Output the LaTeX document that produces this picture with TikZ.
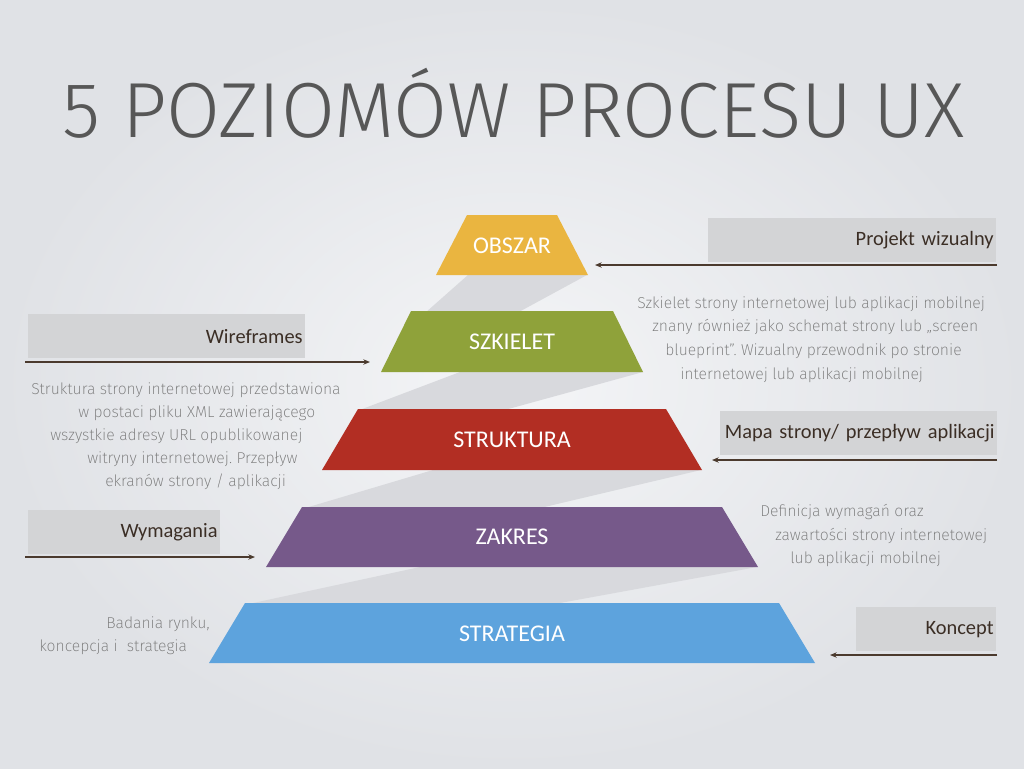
\documentclass[tikz,border=0pt]{standalone}
\usepackage{fontspec}
\setmainfont{Carlito}
\newfontfamily\titlefont{Fira Sans Light}
\newfontfamily\descfont{Fira Sans ExtraLight}
\usetikzlibrary{arrows.meta}
\definecolor{bgin}{HTML}{F4F5F7}
\definecolor{bgout}{HTML}{E0E2E6}
\definecolor{titlegray}{HTML}{575757}
\definecolor{shadowgray}{HTML}{D8D9DD}
\definecolor{boxgray}{HTML}{D3D4D6}
\definecolor{boxtext}{HTML}{3B2E25}
\definecolor{arrowcol}{HTML}{4B3A2E}
\definecolor{descgray}{HTML}{777777}
\definecolor{cgold}{HTML}{EAB540}
\definecolor{cgreen}{HTML}{8FA23A}
\definecolor{cred}{HTML}{B22E23}
\definecolor{cpurple}{HTML}{76598A}
\definecolor{cblue}{HTML}{5DA3DD}
\frenchspacing
\begin{document}
\begin{tikzpicture}[x=0.75pt,y=-0.75pt,
  shadowband/.style={fill=shadowgray},
  level/.style={fill=#1},
  lvltext/.style={text=white, font=\fontsize{18pt}{20pt}\selectfont, inner sep=0},
  box/.style={fill=boxgray, anchor=north west, minimum height=33pt, inner xsep=2pt, inner ysep=0pt,
    align=right, text=boxtext, font=\fontsize{15.3pt}{17pt}\selectfont\frenchspacing},
  conn/.style={draw=arrowcol, line width=0.9pt, -{Stealth[length=5pt,width=4pt]}},
  desc/.style={font=\descfont\fontsize{11.8pt}{14pt}\selectfont\frenchspacing, text=descgray, inner sep=0, anchor=base west}]
\useasboundingbox (0,0) rectangle (1024,768);
\shade[inner color=bgin, outer color=bgout] (0,0) rectangle (1024,768);

% title
\node[anchor=base west, inner sep=0, text=titlegray] (title) at (62,137)
  {\resizebox{676.5pt}{!}{\titlefont 5 POZIOMÓW PROCESU UX}};

% shadow bands
\fill[shadowband] (468,275) -- (587,275) -- (517,313) -- (425,313) -- cycle;
\fill[shadowband] (460,372) -- (643,372) -- (501,411) -- (357,411) -- cycle;
\fill[shadowband] (433,470) -- (701,470) -- (536,509) -- (302,509) -- cycle;
\fill[shadowband] (420,567) -- (757,567) -- (549,605) -- (244,605) -- cycle;

% levels
\fill[level=cgold]   (467,215) -- (557,215) -- (588,275) -- (436,275) -- cycle;
\fill[level=cgreen]  (411,311) -- (613,311) -- (643,372) -- (381,372) -- cycle;
\fill[level=cred]    (358,409) -- (666,409) -- (702,470) -- (322,470) -- cycle;
\fill[level=cpurple] (302,507) -- (722,507) -- (758,567) -- (266,567) -- cycle;
\fill[level=cblue]   (245,603) -- (779,603) -- (815,663) -- (209,663) -- cycle;

\node[lvltext] (obszar) at (512,246) {OBSZAR};
\node[lvltext] (szkielet) at (512,342) {SZKIELET};
\node[lvltext] (struktura) at (512,440) {STRUKTURA};
\node[lvltext] (zakres) at (512,537) {ZAKRES};
\node[lvltext] (strategia) at (512,634) {STRATEGIA};

% grey label boxes
\node[box, text width=212pt] (pw) at (708,218) {Projekt wizualny};
\node[box, text width=203.75pt] (wf) at (28,314) {Wireframes};
\node[box, text width=203.75pt] (ms) at (720,411) {Mapa strony/ przepływ aplikacji};
\node[box, text width=140pt] (wy) at (28,510) {Wymagania};
\node[box, text width=101pt] (ko) at (856,607) {Koncept};

% connectors
\coordinate (pwA) at (997,265); \coordinate (pwB) at (595,265);
\coordinate (wfA) at (25,362);  \coordinate (wfB) at (370,362);
\coordinate (msA) at (997,460); \coordinate (msB) at (712,460);
\coordinate (wyA) at (25,557);  \coordinate (wyB) at (255,557);
\coordinate (koA) at (997,655); \coordinate (koB) at (830,655);
\draw[conn] (pwA) -- (pwB);
\draw[conn] (wfA) -- (wfB);
\draw[conn] (msA) -- (msB);
\draw[conn] (wyA) -- (wyB);
\draw[conn] (koA) -- (koB);

% descriptions
\node[desc] (d1a) at (637,308) {Szkielet strony internetowej lub aplikacji mobilnej};
\node[desc] (d1b) at (652,331) {znany również jako schemat strony lub „screen};
\node[desc] (d1c) at (665,355) {blueprint”. Wizualny przewodnik po stronie};
\node[desc] (d1d) at (680,379) {internetowej lub aplikacji mobilnej};

\node[desc] (d2a) at (31,394) {Struktura strony internetowej przedstawiona};
\node[desc] (d2b) at (78,417) {w postaci pliku XML zawierającego};
\node[desc] (d2c) at (50,440) {wszystkie adresy URL opublikowanej};
\node[desc] (d2d) at (87,463) {witryny internetowej. Przepływ};
\node[desc] (d2e) at (105,486) {ekranów strony / aplikacji};

\node[desc] (d3a) at (760,516) {Definicja wymagań oraz};
\node[desc] (d3b) at (775,540) {zawartości strony internetowej};
\node[desc] (d3c) at (790,563) {lub aplikacji mobilnej};

\node[desc] (d4a) at (106,628) {Badania rynku,};
\node[desc] (d4b) at (39,651) {koncepcja i\ \ strategia};
\end{tikzpicture}
\end{document}
